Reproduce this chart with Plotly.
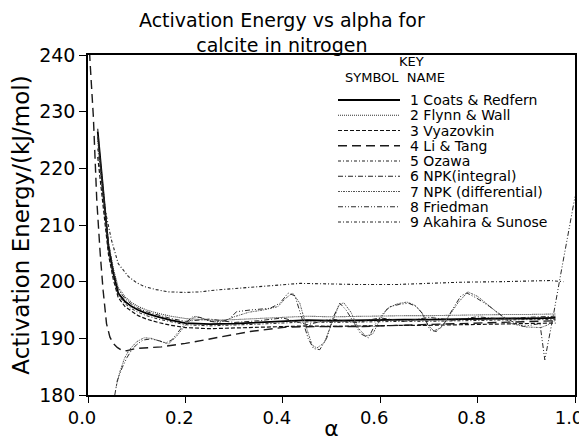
import plotly.graph_objects as go

# ---------------- data ----------------
names = ["1 Coats & Redfern", "2 Flynn & Wall", "3 Vyazovkin", "4 Li & Tang",
         "5 Ozawa", "6 NPK(integral)", "7 NPK (differential)", "8 Friedman",
         "9 Akahira & Sunose"]

alpha_cluster = [0.02, 0.028, 0.035, 0.042, 0.052, 0.062, 0.076, 0.09, 0.103, 0.12,
                 0.144, 0.17, 0.2, 0.25, 0.3, 0.35, 0.4, 0.45, 0.5, 0.55, 0.6,
                 0.65, 0.7, 0.75, 0.8, 0.85, 0.9, 0.96]
E_coats = [226.5, 219.1, 212.6, 206.2, 201.5, 198.0, 196.5, 195.6, 195.0, 194.4,
           193.8, 193.2, 192.7, 192.5, 192.6, 192.8, 193.0, 193.2, 193.1, 193.2, 193.2,
           193.3, 193.3, 193.4, 193.4, 193.5, 193.5, 193.6]
E_flynn = [224.8, 218.5, 212.5, 206.8, 202.3, 199.0, 197.3, 196.3, 195.6, 195.0,
           194.4, 193.9, 193.5, 193.2, 193.3, 193.5, 193.7, 193.9, 193.8, 193.9, 193.9,
           194.0, 194.0, 194.1, 194.1, 194.2, 194.2, 194.3]
E_vyaz = [222.0, 216.0, 210.5, 204.8, 200.4, 197.2, 195.6, 194.7, 194.0, 193.4,
          192.8, 192.3, 191.9, 191.7, 191.8, 191.9, 192.1, 192.2, 192.1, 192.2, 192.2,
          192.3, 192.3, 192.4, 192.5, 192.5, 192.6, 192.7]
E_npk_int = [225.5, 219.5, 213.3, 207.0, 202.0, 198.6, 197.0, 196.0, 195.3, 194.7,
             194.1, 193.5, 193.0, 193.4, 192.8, 193.1, 193.6, 192.4, 193.4, 192.8, 193.6,
             193.0, 193.7, 193.2, 193.8, 193.4, 193.7, 193.9]
E_akahira = [223.5, 217.8, 211.6, 205.6, 201.0, 197.7, 196.1, 195.2, 194.6, 194.0,
             193.4, 192.9, 192.4, 192.2, 192.3, 192.5, 192.7, 192.9, 192.8, 192.9, 192.9,
             193.0, 193.0, 193.1, 193.2, 193.2, 193.3, 193.3]

alpha_li = [0.002, 0.004, 0.011, 0.018, 0.025, 0.031, 0.038, 0.045, 0.052, 0.06,
            0.069, 0.08, 0.097, 0.12, 0.151, 0.2, 0.254, 0.333, 0.408, 0.45, 0.5,
            0.565, 0.65, 0.75, 0.85, 0.96]
E_li = [243.0, 239.1, 229.1, 214.4, 205.0, 198.5, 192.6, 190.2, 189.1, 188.4,
        187.9, 187.8, 188.2, 188.3, 188.5, 189.1, 190.0, 191.2, 192.0, 192.1, 192.1,
        192.1, 192.3, 192.6, 192.9, 193.1]

alpha_ozawa = [0.02, 0.025, 0.03, 0.038, 0.048, 0.062, 0.083, 0.1, 0.117, 0.14,
               0.165, 0.2, 0.23, 0.26, 0.3, 0.326, 0.38, 0.435, 0.5, 0.55, 0.634,
               0.7, 0.764, 0.85, 0.949, 0.976]
E_ozawa = [227.0, 220.5, 215.5, 211.5, 207.4, 203.2, 200.9, 199.8, 199.1, 198.6,
           198.2, 198.1, 198.2, 198.5, 198.8, 199.0, 199.4, 199.7, 199.6, 199.5, 199.5,
           199.7, 199.9, 200.0, 200.2, 200.0]

alpha_npk_diff = [0.058, 0.065, 0.075, 0.085, 0.1, 0.115, 0.13, 0.15, 0.165, 0.18,
                  0.2, 0.22, 0.24, 0.26, 0.28, 0.3, 0.33, 0.36, 0.39, 0.405, 0.42,
                  0.435, 0.45, 0.46, 0.47, 0.485, 0.5, 0.515, 0.525, 0.54, 0.555,
                  0.57, 0.585, 0.6, 0.615, 0.635, 0.655, 0.67, 0.685, 0.698, 0.71,
                  0.725, 0.74, 0.76, 0.78, 0.8, 0.82, 0.845, 0.87, 0.9, 0.93, 0.945, 0.96]
E_npk_diff = [181.5, 184.0, 186.5, 188.0, 189.4, 190.1, 190.0, 189.4, 189.0, 190.2,
              192.3, 193.9, 193.4, 192.9, 193.1, 193.8, 194.6, 195.0, 195.6, 197.0, 198.0,
              196.2, 191.5, 188.8, 188.3, 189.2, 192.5, 195.8, 196.3, 194.6, 191.8,
              190.4, 190.8, 193.4, 195.3, 196.1, 196.4, 195.9, 194.6, 192.4, 191.3,
              191.9, 193.8, 196.3, 198.2, 197.4, 196.0, 194.2, 192.6, 192.0, 191.9, 192.4, 193.2]

alpha_fried = [0.055, 0.06, 0.07, 0.08, 0.09, 0.1, 0.113, 0.13, 0.145, 0.16, 0.172,
               0.19, 0.2, 0.215, 0.23, 0.25, 0.27, 0.29, 0.305, 0.333, 0.374, 0.394,
               0.411, 0.425, 0.44, 0.452, 0.463, 0.476, 0.49, 0.504, 0.517, 0.53,
               0.545, 0.56, 0.576, 0.59, 0.606, 0.62, 0.64, 0.658, 0.675, 0.689,
               0.702, 0.715, 0.73, 0.743, 0.754, 0.766, 0.778, 0.798, 0.825, 0.853,
               0.875, 0.894, 0.912, 0.928, 0.938, 0.949, 0.955, 0.97, 0.985, 1.0]
E_fried = [180.0, 182.5, 184.8, 186.6, 188.0, 188.9, 189.7, 189.9, 189.6, 189.2, 189.7,
           191.5, 192.7, 193.8, 193.7, 193.0, 192.8, 193.4, 194.7, 195.0, 195.3, 196.2,
           198.0, 197.5, 193.5, 190.0, 188.2, 188.0, 190.0, 193.8, 196.2, 195.0,
           192.9, 190.8, 190.1, 192.5, 194.4, 195.6, 196.0, 196.2, 195.6, 194.1,
           191.5, 191.2, 192.4, 194.4, 195.9, 197.5, 198.0, 197.1, 195.6, 193.8,
           192.8, 192.1, 192.4, 192.6, 186.2, 190.9, 193.8, 201.0, 208.0, 215.0]

x_ticks = [0.0, 0.2, 0.4, 0.6, 0.8, 1.0]
x_tick_labels = ["0.0", "0.2", "0.4", "0.6", "0.8", "1.0"]
y_ticks = [180, 190, 200, 210, 220, 230, 240]

# ---------------- styles ----------------
series = [
    (alpha_cluster, E_coats,   dict(color="#000000", width=1.8, dash="solid")),
    (alpha_cluster, E_flynn,   dict(color="#333333", width=1.1, dash="1px,1px")),
    (alpha_cluster, E_vyaz,    dict(color="#111111", width=1.2, dash="4px,2px")),
    (alpha_li,      E_li,      dict(color="#1a1a1a", width=1.4, dash="9px,5px")),
    (alpha_ozawa,   E_ozawa,   dict(color="#222222", width=1.1, dash="3px,2px,1px,2px")),
    (alpha_cluster, E_npk_int, dict(color="#222222", width=1.0, dash="5px,2px,1px,2px")),
    (alpha_npk_diff, E_npk_diff, dict(color="#555555", width=1.0, dash="2px,1px,1px,1px")),
    (alpha_fried,   E_fried,   dict(color="#2a2a2a", width=1.0, dash="5px,2px,1px,2px,1px,2px")),
    (alpha_cluster, E_akahira, dict(color="#222222", width=1.0, dash="3px,2px,1px,2px")),
]

FONT = "DejaVu Sans"
# the page body has an 8px margin, so the figure sits at (8, 8) in the window
OFF = 8
W, H = 587, 441 - OFF
# target plot box in window pixels: x 88..575, y 55..395
L, R, T, B = 88 - OFF, W - (575 - OFF), 55 - OFF, 441 - 395
PW, PH = W - L - R, H - T - B


def px_x(px):
    # window pixel -> paper x
    return (px - OFF - L) / PW


def px_y(py):
    # window pixel -> paper y
    return (H - B - (py - OFF)) / PH


fig = go.Figure()
for (xs, ys, ln), nm in zip(series, names):
    fig.add_trace(go.Scatter(x=xs, y=ys, mode="lines", name=nm, line=ln,
                             showlegend=False))

annotations = [
    dict(text="Activation Energy vs alpha for<br>calcite in nitrogen",
         x=px_x(282), y=px_y(32), xref="paper", yref="paper", showarrow=False,
         xanchor="center", yanchor="middle", align="center",
         font=dict(family=FONT, size=19, color="black")),
    dict(text="KEY", x=px_x(411), y=px_y(61), xref="paper", yref="paper",
         showarrow=False, xanchor="center", yanchor="middle",
         font=dict(family=FONT, size=13, color="black")),
    dict(text="SYMBOL  NAME", x=px_x(395), y=px_y(77), xref="paper",
         yref="paper", showarrow=False, xanchor="center", yanchor="middle",
         font=dict(family=FONT, size=13, color="black")),
]

shapes = []
for i, ((_, _, ln), nm) in enumerate(zip(series, names)):
    yy = px_y(100 + 15.25 * i)
    shapes.append(dict(type="line", xref="paper", yref="paper", x0=px_x(338), x1=px_x(400),
                       y0=yy, y1=yy, line=ln))
    annotations.append(dict(text=nm, x=px_x(408), y=yy, xref="paper", yref="paper",
                            showarrow=False, xanchor="left", yanchor="middle",
                            font=dict(family=FONT, size=14, color="black")))

fig.update_layout(
    width=W, height=H,
    margin=dict(l=L, r=R, t=T, b=B),
    plot_bgcolor="white", paper_bgcolor="white",
    showlegend=False,
    annotations=annotations,
    shapes=shapes,
    font=dict(family=FONT, color="black"),
)
fig.update_xaxes(range=[0, 1], tickvals=x_ticks, ticktext=x_tick_labels,
                 ticks="outside", ticklen=6, tickwidth=1.2, tickcolor="black",
                 showline=True, linecolor="black", linewidth=1.6, mirror=True,
                 showgrid=False, zeroline=False, automargin=False,
                 ticklabeloverflow="allow", ticklabelshift=-6,
                 tickfont=dict(family=FONT, size=18, color="black"),
                 title=dict(text="α", font=dict(family=FONT, size=22, color="black"),
                            standoff=0))
fig.update_yaxes(range=[180, 240], tickvals=y_ticks,
                 ticks="outside", ticklen=7, tickwidth=1.2, tickcolor="black",
                 showline=True, linecolor="black", linewidth=1.6, mirror=True,
                 showgrid=False, zeroline=False, automargin=False,
                 tickfont=dict(family=FONT, size=19, color="black"),
                 title=dict(text="Activation Energy/(kJ/mol)",
                            font=dict(family=FONT, size=23, color="black"), standoff=6))

fig.write_html("out.html")
